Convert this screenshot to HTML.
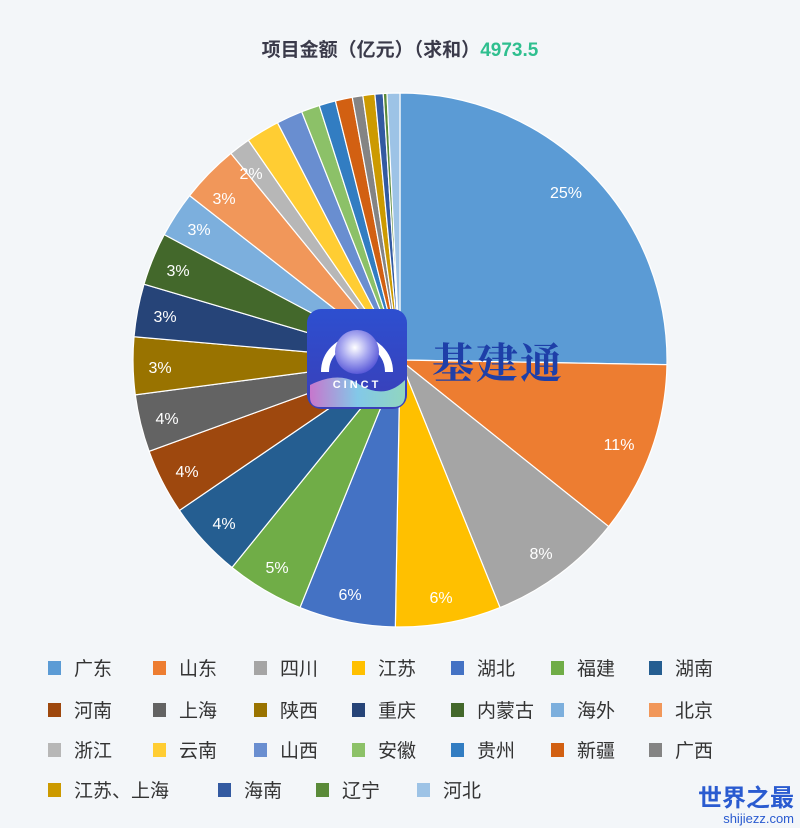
<!DOCTYPE html>
<html><head><meta charset="utf-8">
<style>
html,body{margin:0;padding:0;background:#f3f6f9;}
svg{display:block;}
text{font-family:"Liberation Sans","Noto Sans CJK SC",sans-serif;}
</style></head>
<body>
<svg id="s" width="800" height="828" viewBox="0 0 800 828" xmlns="http://www.w3.org/2000/svg">
<defs>
<linearGradient id="lg" x1="0" y1="0" x2="0" y2="1">
<stop offset="0" stop-color="#2d4fd0"/><stop offset="1" stop-color="#3a3fb8"/></linearGradient>
<radialGradient id="rg" cx="0.45" cy="0.4" r="0.6">
<stop offset="0" stop-color="#ffffff"/><stop offset="0.5" stop-color="#a8a8f0"/><stop offset="1" stop-color="#5a5ad8"/></radialGradient>
<linearGradient id="wv" x1="0" y1="0" x2="1" y2="0">
<stop offset="0" stop-color="#e080d0"/><stop offset="0.5" stop-color="#90e0f0"/><stop offset="1" stop-color="#a0f0c0"/></linearGradient>
</defs>
<text x="400" y="56" text-anchor="middle" font-size="19" font-weight="bold" fill="#3a3a4a">项目金额（亿元）（求和）<tspan fill="#2fbf8f">4973.5</tspan></text>
<g id="pie"></g>
<g id="lbl" font-size="16" fill="#fff" text-anchor="middle"></g>
<rect x="307" y="309" width="100" height="100" rx="14" fill="url(#lg)"/>
<path d="M310 385 Q340 370 360 385 Q385 400 405 380 L405 395 Q405 407 393 407 L320 407 Q310 407 310 397Z" fill="url(#wv)" opacity="0.85"/>
<path d="M325 372 A32 32 0 1 1 389 372" fill="none" stroke="#fff" stroke-width="8"/>
<circle cx="357" cy="352" r="22" fill="url(#rg)"/>
<text x="357" y="388" text-anchor="middle" font-size="11" font-weight="bold" fill="#fff" letter-spacing="3">CINCT</text>
<text x="432" y="378" font-size="42" font-weight="bold" fill="#1e3fa8" style="font-family:'Noto Serif CJK SC',serif" letter-spacing="2">基建通</text>
<g id="leg" font-size="19" fill="#333"></g>
<text x="794" y="806" text-anchor="end" font-size="24" font-weight="bold" fill="#2a5bd0">世界之最</text>
<text x="794" y="823" text-anchor="end" font-size="13" fill="#2a5bd0">shijiezz.com</text>
</svg>
<script>
var ends=[91,128.6,158,181,202,219,235.7,250,262.5,275,286.5,298,308,320.7,325.4,332.7,338.4,342.4,346,349.7,352,354.6,356.4,357.2,360];
var names=["广东","山东","四川","江苏","湖北","福建","湖南","河南","上海","陕西","重庆","内蒙古","海外","北京","浙江","云南","山西","安徽","贵州","新疆","广西","江苏、上海","海南","辽宁","河北"];
var cols=["#5b9bd5","#ed7d31","#a5a5a5","#ffc000","#4472c4","#70ad47","#255e91","#9e480e","#636363","#997300","#264478","#43682b","#7cafdd","#f1975a","#b7b7b7","#ffcd33","#698ed0","#8cc168","#327dc2","#d26012","#848484","#cc9a00","#335aa1","#5a8a39","#9dc3e6"];
var cx=400,cy=360,r=267,ns="http://www.w3.org/2000/svg";
function pt(a,rr){var t=a*Math.PI/180;return [cx+rr*Math.sin(t),cy-rr*Math.cos(t)];}
var g=document.getElementById("pie"),s=0;
ends.forEach(function(e,i){var p1=pt(s,r),p2=pt(e,r);var p=document.createElementNS(ns,"path");
p.setAttribute("d","M"+cx+" "+cy+"L"+p1[0]+" "+p1[1]+"A"+r+" "+r+" 0 "+(e-s>180?1:0)+" 1 "+p2[0]+" "+p2[1]+"Z");
p.setAttribute("fill",cols[i]);p.setAttribute("stroke","#fff");p.setAttribute("stroke-width","1.2");g.appendChild(p);s=e;});
var L=[[566,192,"25%"],[619,444,"11%"],[541,553,"8%"],[441,597,"6%"],[350,594,"6%"],[277,567,"5%"],[224,523,"4%"],[187,471,"4%"],[167,418,"4%"],[160,367,"3%"],[165,316,"3%"],[178,270,"3%"],[199,229,"3%"],[224,198,"3%"],[251,173,"2%"]];
var lg=document.getElementById("lbl");
L.forEach(function(l){var t=document.createElementNS(ns,"text");t.setAttribute("x",l[0]);t.setAttribute("y",l[1]+6);t.textContent=l[2];lg.appendChild(t);});
var cxs=[48,153,254,352,451,551,649],rows=[668,710,750,790],lgd=document.getElementById("leg");
var r4=[48,218,316,417];
names.forEach(function(n,i){var row=Math.floor(i/7),c=i%7;var x=row<3?cxs[c]:r4[c],y=rows[row];
var q=document.createElementNS(ns,"rect");q.setAttribute("x",x);q.setAttribute("y",y-7);q.setAttribute("width",13);q.setAttribute("height",14);q.setAttribute("fill",cols[i]);lgd.appendChild(q);
var t=document.createElementNS(ns,"text");t.setAttribute("x",x+26);t.setAttribute("y",y+7);t.textContent=n;lgd.appendChild(t);});
</script>
</body></html>
